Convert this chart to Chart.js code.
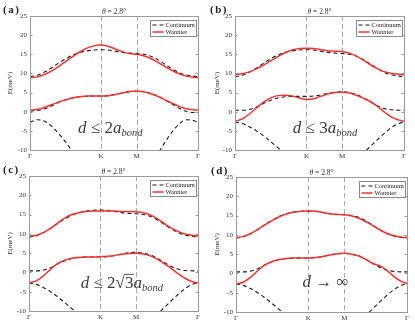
<!DOCTYPE html>
<html>
<head>
<meta charset="utf-8">
<script src="https://cdn.jsdelivr.net/npm/chart.js@4.4.0/dist/chart.umd.min.js"></script>
<style>
  html, body { margin: 0; padding: 0; background: #fff; }
  .panel { position: absolute; }
</style>
</head>
<body>
<div class="panel" style="left:0;top:0"><canvas id="chart-a" width="207" height="163"></canvas></div>
<div class="panel" style="left:207px;top:0"><canvas id="chart-b" width="208" height="163"></canvas></div>
<div class="panel" style="left:0;top:163px"><canvas id="chart-c" width="207" height="163"></canvas></div>
<div class="panel" style="left:207px;top:163px"><canvas id="chart-d" width="208" height="163"></canvas></div>
<script>
// k-path (Γ -> K -> M -> Γ), path length units
const kPath = [0, 0.1, 0.2, 0.3, 0.4, 0.5, 0.6, 0.7, 0.8, 0.9, 1.0, 1.1, 1.2, 1.3, 1.4, 1.5, 1.6, 1.7, 1.8, 1.9, 2.0, 2.1, 2.2, 2.3, 2.366];
const tickPos = [0, 1, 1.5, 2.366];
const tickLabels = ['Γ', 'K', 'M', 'Γ'];
const seriesNames = ['Continuum', 'Wannier'];

// continuum bands
const continuumUpper = [9.2, 9.5, 10.3, 11.4, 12.7, 13.8, 14.8, 15.5, 15.9, 16.1, 16.2, 16.1, 15.8, 15.5, 15.3, 15.2, 15.0, 14.5, 13.6, 12.4, 11.2, 10.2, 9.6, 9.3, 9.2];
const continuumLowerA = [0.2, 0.3, 0.7, 1.5, 2.4, 3.1, 3.6, 3.9, 4.0, 4.1, 4.1, 4.2, 4.5, 4.9, 5.2, 5.3, 5.2, 4.8, 4.1, 3.1, 2.0, 0.9, 0.1, -0.2, -0.2];
const continuumDeepA = [-2.8, -2.1, -2.4, -3.7, -5.6, -7.9, -10.4, -12.9, -15.4, null, null, null, null, null, null, null, null, -13.3, -10.9, -8.0, -5.3, -3.2, -2.1, -2.3, -2.8];
const continuumLower = [0.4, 0.4, 0.6, 1.2, 2.2, 3.0, 3.6, 3.9, 4.0, 4.0, 4.0, 4.1, 4.4, 4.8, 5.1, 5.2, 5.0, 4.5, 3.6, 2.5, 1.5, 0.8, 0.5, 0.4, 0.4];
const continuumDeep = [-2.7, -3.1, -3.9, -5.0, -6.3, -7.8, -9.4, -11.0, -12.6, -14.2, null, null, null, null, null, null, null, -12.6, -10.8, -9.0, -7.2, -5.5, -4.0, -3.0, -2.7];

// Wannier bands, one pair per panel
const wannierUpperA = [8.9, 9.1, 9.7, 10.6, 11.8, 13.1, 14.4, 15.6, 16.6, 17.2, 17.4, 17.1, 16.4, 15.7, 15.2, 15.0, 14.6, 13.9, 12.9, 11.8, 10.8, 9.9, 9.3, 9.0, 8.9];
const wannierLowerA = [0.4, 0.6, 1.1, 1.8, 2.5, 3.1, 3.6, 3.9, 4.1, 4.1, 4.1, 4.2, 4.5, 4.9, 5.3, 5.4, 5.2, 4.7, 4.0, 3.1, 2.2, 1.4, 0.8, 0.5, 0.4];
const wannierUpperB = [9.7, 9.9, 10.4, 11.2, 12.2, 13.3, 14.4, 15.4, 16.1, 16.5, 16.6, 16.5, 16.2, 15.9, 15.8, 15.7, 15.3, 14.5, 13.4, 12.2, 11.2, 10.4, 10.0, 9.8, 9.7];
const wannierLowerB = [-2.5, -1.9, -0.6, 1.0, 2.5, 3.6, 4.2, 4.3, 4.1, 3.6, 3.2, 3.4, 4.0, 4.6, 5.0, 5.1, 4.9, 4.3, 3.5, 2.6, 1.3, -0.2, -1.5, -2.2, -2.5];
const wannierUpperC = [9.4, 9.6, 10.3, 11.4, 12.8, 14.1, 15.0, 15.5, 15.8, 15.9, 15.9, 15.9, 15.9, 15.8, 15.8, 15.7, 15.5, 14.9, 13.9, 12.6, 11.4, 10.5, 9.9, 9.6, 9.5];
const wannierLowerC = [-2.7, -2.2, -0.9, 0.8, 2.3, 3.2, 3.7, 3.9, 4.0, 4.0, 4.1, 4.2, 4.4, 4.7, 4.9, 5.0, 4.8, 4.3, 3.4, 2.2, 0.9, -0.5, -1.7, -2.5, -2.7];
const wannierUpperD = [9.3, 9.6, 10.3, 11.4, 12.6, 13.7, 14.7, 15.4, 15.9, 16.1, 16.2, 16.1, 15.8, 15.5, 15.3, 15.2, 14.9, 14.3, 13.4, 12.3, 11.2, 10.3, 9.7, 9.4, 9.3];
const wannierLowerD = [-2.7, -2.3, -1.0, 0.7, 2.2, 3.1, 3.6, 3.9, 4.0, 4.0, 4.0, 4.1, 4.4, 4.8, 5.1, 5.2, 5.0, 4.5, 3.6, 2.5, 1.9, 0.6, -1.0, -2.2, -2.6];

// annotation texts: [text, style]  i = italic, n = normal, s = subscript, o = under radical
const noteA = [['d', 'i'], [' ≤ 2', 'n'], ['a', 'i'], ['bond', 's']];
const noteB = [['d', 'i'], [' ≤ 3', 'n'], ['a', 'i'], ['bond', 's']];
const noteC = [['d', 'i'], [' ≤ 2', 'n'], ['√', 'n'], ['3', 'o'], ['a', 'i'], ['bond', 's']];
const noteD = [['d', 'i'], [' → ∞', 'n']];

const SERIF = "'Liberation Serif', 'Times New Roman', serif";
Chart.defaults.font.family = SERIF;
Chart.defaults.color = '#333';

const RED = '#f03434';

// frame, K/M lines, legend box, labels
const panelDeco = {
    id: 'panelDeco',
    beforeDatasetsDraw(chart, args, opts) {
        const { ctx, chartArea: a, scales: { x } } = chart;
        ctx.save();
        ctx.strokeStyle = '#a8a8a8';
        ctx.lineWidth = 1;
        ctx.setLineDash([5, 3]);
        [tickPos[1], tickPos[2]].forEach(v => {
            const px = Math.round(x.getPixelForValue(v)) + 0.5;
            ctx.beginPath();
            ctx.moveTo(px, a.top);
            ctx.lineTo(px, a.bottom);
            ctx.stroke();
        });
        ctx.restore();
    },
    afterDraw(chart, args, opts) {
        const { ctx, chartArea: a, scales: { x, y } } = chart;
        ctx.save();
        // box
        ctx.strokeStyle = '#9a9a9a';
        ctx.lineWidth = 1;
        ctx.strokeRect(Math.round(a.left) + 0.5, Math.round(a.top) + 0.5, Math.round(a.right - a.left), Math.round(a.bottom - a.top));
        // small inward ticks
        ctx.beginPath();
        y.ticks.forEach(t => {
            const py = Math.round(y.getPixelForValue(t.value)) + 0.5;
            ctx.moveTo(a.left, py); ctx.lineTo(a.left + 2.5, py);
            ctx.moveTo(a.right, py); ctx.lineTo(a.right - 2.5, py);
        });
        ctx.stroke();

        // legend
        const lw = 46, lh = 16;
        const lx = Math.round(a.right) - lw - 2 + 0.5, ly = Math.round(a.top) + 4 + 0.5;
        ctx.fillStyle = '#fff';
        ctx.fillRect(lx, ly, lw, lh);
        ctx.strokeStyle = '#8a8a8a';
        ctx.strokeRect(lx, ly, lw, lh);
        seriesNames.forEach((name, i) => {
            const ds = chart.data.datasets.find(d => d.label === name);
            const ry = ly + 4.5 + i * 7;
            ctx.strokeStyle = ds.borderColor;
            ctx.lineWidth = ds.borderWidth;
            ctx.setLineDash(ds.borderDash || []);
            ctx.beginPath();
            ctx.moveTo(lx + 2, ry);
            ctx.lineTo(lx + 13, ry);
            ctx.stroke();
            ctx.setLineDash([]);
            ctx.fillStyle = '#222';
            ctx.font = '6.5px ' + SERIF;
            ctx.textBaseline = 'middle';
            ctx.textAlign = 'left';
            ctx.fillText(name, lx + 15, ry + 0.5);
        });

        // title
        ctx.fillStyle = '#333';
        ctx.textAlign = 'center';
        ctx.textBaseline = 'middle';
        ctx.font = 'italic 7.5px ' + SERIF;
        const tx = (a.left + a.right) / 2;
        const thw = ctx.measureText('θ').width;
        ctx.font = '7.5px ' + SERIF;
        const rest = ' = 2.8°';
        const rw = ctx.measureText(rest).width;
        ctx.textAlign = 'left';
        ctx.font = 'italic 7.5px ' + SERIF;
        ctx.fillText('θ', tx - (thw + rw) / 2, a.top - 3.5);
        ctx.font = '7.5px ' + SERIF;
        ctx.fillText(rest, tx - (thw + rw) / 2 + thw, a.top - 3.5);

        // panel letter
        ctx.fillStyle = '#222';
        ctx.font = 'bold 11px ' + SERIF;
        ctx.letterSpacing = '1.5px';
        ctx.fillText(opts.letter, opts.letterPos[0], opts.letterPos[1]);
        ctx.letterSpacing = '0px';

        // annotation
        const big = 17, small = 10.5;
        const fontFor = st => st === 'i' ? 'italic ' + big + 'px ' + SERIF
            : st === 's' ? 'italic ' + small + 'px ' + SERIF
            : big + 'px ' + SERIF;
        let total = 0;
        opts.note.forEach(([t, st]) => { ctx.font = fontFor(st); total += ctx.measureText(t).width; });
        let cx = x.getPixelForValue(opts.notePos[0]) - total / 2;
        const base = y.getPixelForValue(opts.notePos[1]);
        ctx.fillStyle = '#3a3a3a';
        ctx.textBaseline = 'alphabetic';
        opts.note.forEach(([t, st]) => {
            ctx.font = fontFor(st);
            const w = ctx.measureText(t).width;
            ctx.fillText(t, cx, st === 's' ? base + 3.5 : base);
            if (st === 'o') {
                ctx.strokeStyle = '#3a3a3a';
                ctx.lineWidth = 0.9;
                ctx.beginPath();
                ctx.moveTo(cx - 0.5, base - 13.5);
                ctx.lineTo(cx + w + 0.5, base - 13.5);
                ctx.stroke();
            }
            cx += w;
        });
        ctx.restore();
    }
};

function toPoints(arr) {
    return kPath.map((k, i) => ({ x: k, y: arr[i] }));
}

function crearPanel(p) {
    const canvas = document.getElementById(p.id);
    const W = canvas.width, H = canvas.height;
    const [left, right, top, bottom] = p.geom;
    const continuumStyle = { borderColor: '#1a1a1a', borderWidth: 1.1, borderDash: [4, 3] };
    const wannierStyle = { borderColor: RED, borderWidth: 1.5 };

    const datasets = [
        ...p.wannier.map((arr, i) => ({ label: 'Wannier', data: toPoints(arr), ...wannierStyle, order: 0 })),
        ...p.continuum.map((arr, i) => ({ label: 'Continuum', data: toPoints(arr), ...continuumStyle, order: 1 })),
    ];

    return new Chart(canvas, {
        type: 'line',
        data: { datasets },
        options: {
            responsive: false,
            animation: false,
            parsing: false,
            layout: { padding: { left: 0, right: W - right, top: top, bottom: 0 } },
            elements: {
                point: { radius: 0 },
                line: { cubicInterpolationMode: 'monotone', fill: false }
            },
            scales: {
                x: {
                    type: 'linear',
                    min: tickPos[0],
                    max: tickPos[tickPos.length - 1],
                    afterBuildTicks: axis => { axis.ticks = tickPos.map(v => ({ value: v })); },
                    afterFit: s => { s.height = H - bottom; },
                    grid: { display: false, drawTicks: false },
                    border: { display: false },
                    ticks: {
                        autoSkip: false,
                        maxRotation: 0,
                        padding: 2,
                        font: { size: 7 },
                        callback: (v, i) => tickLabels[i]
                    }
                },
                y: {
                    min: -10,
                    max: 25,
                    afterFit: s => { s.width = left; },
                    grid: { display: false, drawTicks: false },
                    border: { display: false },
                    ticks: { stepSize: 5, padding: 3, font: { size: 7 } },
                    title: { display: true, text: 'E(meV)', font: { size: 7 }, padding: { top: 6, bottom: 0 } }
                }
            },
            plugins: {
                legend: { display: false },
                tooltip: { enabled: false },
                panelDeco: { letter: p.letter, letterPos: p.letterPos, note: p.note, notePos: p.notePos }
            }
        },
        plugins: [panelDeco]
    });
}

const panels = [
    { id: 'chart-a', letter: '(a)', letterPos: [3, 10.5], geom: [30, 198, 16, 150],
      wannier: [wannierUpperA, wannierLowerA], continuum: [continuumUpper, continuumLowerA, continuumDeepA],
      note: noteA, notePos: [1.13, -5.5] },
    { id: 'chart-b', letter: '(b)', letterPos: [3, 10.5], geom: [28, 197, 16, 150],
      wannier: [wannierUpperB, wannierLowerB], continuum: [continuumUpper, continuumLower, continuumDeep],
      note: noteB, notePos: [1.26, -5.5] },
    { id: 'chart-c', letter: '(c)', letterPos: [3, 7], geom: [29, 198, 13, 148],
      wannier: [wannierUpperC, wannierLowerC], continuum: [continuumUpper, continuumLower, continuumDeep],
      note: noteC, notePos: [1.30, -4.0] },
    { id: 'chart-d', letter: '(d)', letterPos: [4, 8], geom: [29, 200, 14, 149],
      wannier: [wannierUpperD, wannierLowerD], continuum: [continuumUpper, continuumLower, continuumDeep],
      note: noteD, notePos: [1.24, -3.5] },
];

panels.forEach(crearPanel);
</script>
</body>
</html>
